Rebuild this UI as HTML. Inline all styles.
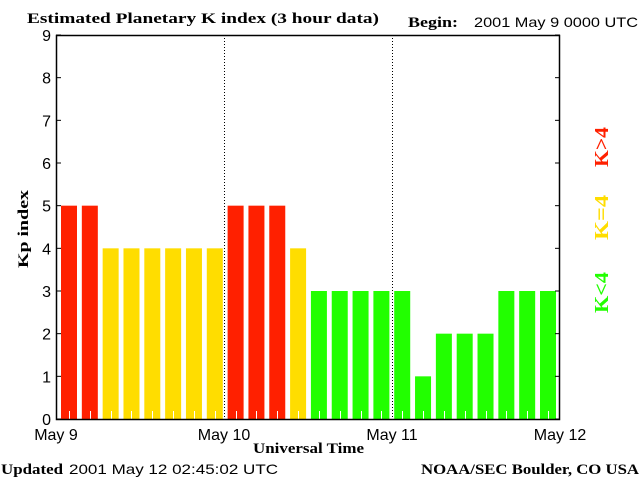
<!DOCTYPE html>
<html><head><meta charset="utf-8"><style>
body{margin:0;background:#fff;}
svg{display:block;}
.t{font-family:"Liberation Sans",sans-serif;font-size:14px;fill:#000;}
.k{font-family:"Liberation Sans",sans-serif;font-size:16px;fill:#000;}
.s{font-family:"Liberation Serif",serif;font-weight:bold;font-size:15px;fill:#000;}
</style></head><body>
<svg id="c" width="640" height="480" xmlns="http://www.w3.org/2000/svg">
<text class="s" x="27" y="23" textLength="352" lengthAdjust="spacingAndGlyphs">Estimated Planetary K index (3 hour data)</text>
<text class="s" x="408" y="27" textLength="50" lengthAdjust="spacingAndGlyphs">Begin:</text>
<text class="t" x="474" y="27" textLength="164" lengthAdjust="spacingAndGlyphs">2001 May 9 0000 UTC</text>
<text class="s" x="0" y="0" transform="translate(28,229) rotate(-90)" text-anchor="middle" textLength="78" lengthAdjust="spacingAndGlyphs">Kp index</text>
<text class="s" x="253" y="453" textLength="111" lengthAdjust="spacingAndGlyphs">Universal Time</text>
<text class="s" x="1" y="474" textLength="62" lengthAdjust="spacingAndGlyphs">Updated</text>
<text class="t" x="69" y="474" textLength="209" lengthAdjust="spacingAndGlyphs">2001 May 12 02:45:02 UTC</text>
<text class="s" x="421" y="474" textLength="218" lengthAdjust="spacingAndGlyphs">NOAA/SEC Boulder, CO USA</text>
<g id="bars"></g>
<g id="axes"></g>
<text class="s" style="font-size:20px;fill:#ff2000" transform="translate(608,167) rotate(-90)" textLength="40" lengthAdjust="spacingAndGlyphs">K&gt;4</text>
<text class="s" style="font-size:20px;fill:#ffdd00" transform="translate(608,240) rotate(-90)" textLength="45" lengthAdjust="spacingAndGlyphs">K=4</text>
<text class="s" style="font-size:20px;fill:#22ff00" transform="translate(608,313) rotate(-90)" textLength="41" lengthAdjust="spacingAndGlyphs">K&lt;4</text>
</svg>
<script>
const kpValues=[5,5,4,4,4,4,4,4,5,5,5,4,3,3,3,3,3,1,2,2,2,3,3,3];
const yTicks=[0,1,2,3,4,5,6,7,8,9];
const dayLabels=["May 9","May 10","May 11","May 12"];
const NS="http://www.w3.org/2000/svg";
const L=56,R=560,T=35,B=419;
const slot=(R-L)/kpValues.length;
const pitch=(540-61)/(kpValues.length-1);
function xs(i){return L+i*slot;}
function bx(i){return 61+i*pitch;}
function ys(v){return B-(B-T)*v/9;}
function mk(tag,attrs,parent){const e=document.createElementNS(NS,tag);for(const k in attrs)e.setAttribute(k,attrs[k]);parent.appendChild(e);return e;}
const bars=document.getElementById('bars'),axes=document.getElementById('axes');
kpValues.forEach((v,i)=>{
  const col=v>4?'#ff2000':(v==4?'#ffdd00':'#22ff00');
  const r=mk('rect',{x:bx(i),y:ys(v),width:16,height:B-ys(v),fill:col},bars);
  
  
  const c=Math.round(bx(i)+8)+0.5;
  mk('line',{x1:c,x2:c,y1:B-8,y2:B,stroke:'#fff','stroke-width':1},bars);
});
[1,2].forEach(d=>{
  const dl=mk('line',{x1:xs(d*8)+0.5,x2:xs(d*8)+0.5,y1:T,y2:B,stroke:'#000','stroke-dasharray':'1,2'},axes);
  
  
});
const frame=mk('rect',{x:L+0.5,y:T+0.5,width:R-L-1,height:B-T,fill:'none',stroke:'#000','stroke-width':1.5},axes);


yTicks.forEach(v=>{
  const y=ys(v);
  mk('line',{x1:L,x2:L+5,y1:y,y2:y,stroke:'#000'},axes);
  mk('line',{x1:R-5,x2:R,y1:y,y2:y,stroke:'#000'},axes);
  const t=mk('text',{x:L-5,y:y+6,'text-anchor':'end',class:'k'},axes);
  t.textContent=v;
  
  
});
dayLabels.forEach((s,i)=>{
  const t=mk('text',{x:xs(i*8),y:440,'text-anchor':'middle',class:'k'},axes);
  t.textContent=s;
  
  
});
</script>
</body></html>
